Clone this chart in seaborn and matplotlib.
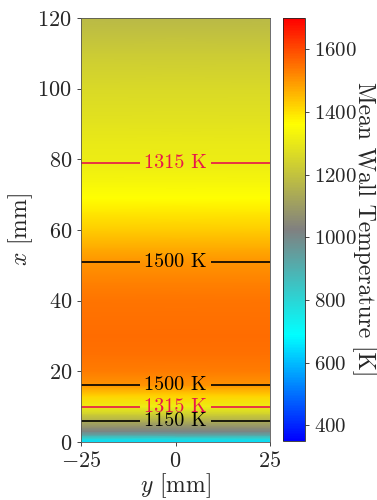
import numpy as np
import matplotlib
matplotlib.use("Agg")
import matplotlib.pyplot as plt
import seaborn as sns
from matplotlib.colors import LinearSegmentedColormap

# Data: mean wall temperature along x (uniform in y)
x_mm = [0, 1, 2, 3, 4, 6, 8, 10, 13, 16, 20, 25, 30, 35, 40, 45, 51, 55, 60, 65, 69, 74, 79, 85, 90, 100, 110, 120]
T_K = [650, 800, 930, 1010, 1060, 1150, 1240, 1315, 1420, 1500, 1535, 1550, 1553, 1550, 1542, 1526, 1500, 1470, 1430, 1390, 1362, 1335, 1315, 1300, 1285, 1260, 1225, 1175]
y_edges = [-25, 25]
levels = [1150, 1315, 1500]
level_colors = ["black", "#e8174a", "black"]
label_x = [6, 10, 16, 51, 79]
cbar_ticks = [400, 600, 800, 1000, 1200, 1400, 1600]
vmin, vmax = 350, 1700

sns.set_theme(style="ticks")
plt.rcParams["font.family"] = "serif"
plt.rcParams["font.serif"] = ["cmr10"]
plt.rcParams["mathtext.fontset"] = "cm"
plt.rcParams["axes.formatter.use_mathtext"] = True
plt.rcParams["axes.unicode_minus"] = True

cmap = LinearSegmentedColormap.from_list("wall", ["blue", "cyan", "grey", "yellow", "red"])

fig = plt.figure(figsize=(3.77, 5.0), dpi=100)
ax = fig.add_axes([81/377, 58/500, 189/377, 424/500])
cax = fig.add_axes([283/377, 59/500, 22/377, 423/500])

Y, X = np.meshgrid(np.array(y_edges, float), np.array(x_mm, float))
Z = np.tile(np.array(T_K, float)[:, None], (1, len(y_edges)))

mesh = ax.pcolormesh(Y, X, Z, cmap=cmap, vmin=vmin, vmax=vmax, shading="gouraud")
cs = ax.contour(Y, X, Z, levels=levels, colors=level_colors, linewidths=1.2)
ax.clabel(cs, fmt=lambda v: f"{int(v)} K", fontsize=14.5, inline=True,
          manual=[(0, xv) for xv in label_x], inline_spacing=4)

ax.set_xlim(-25, 25)
ax.set_ylim(0, 120)
ax.set_xticks([-25, 0, 25])
ax.set_yticks([0, 20, 40, 60, 80, 100, 120])
ax.tick_params(labelsize=16, length=3, width=0.6)
ax.set_xlabel(r"$y$ [mm]", fontsize=17, labelpad=0)
ax.set_ylabel(r"$x$ [mm]", fontsize=17, labelpad=2)
for s in ax.spines.values():
    s.set_linewidth(0.6)
    s.set_color("#555555")

cb = fig.colorbar(mesh, cax=cax)
cb.set_ticks(cbar_ticks)
cb.ax.tick_params(labelsize=15, length=3, width=0.6)
cb.outline.set_linewidth(0.6)
cb.set_label("Mean Wall Temperature [K]", fontsize=17, rotation=270, labelpad=14)

fig.savefig("out.png", dpi=100)
